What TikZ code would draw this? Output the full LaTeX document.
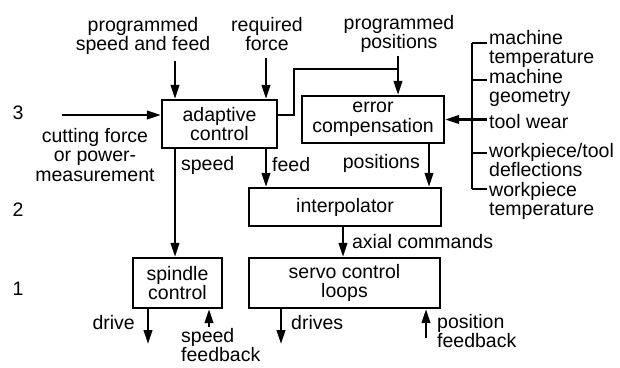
\documentclass[tikz,border=0pt]{standalone}
\usepackage{fontspec}
\setmainfont{Liberation Sans}
\usetikzlibrary{arrows.meta}

\def\ncLineWidth{2.3pt}
\def\ncTickLength{15}

\tikzset{
    ncbox/.style = {draw, line width = \ncLineWidth, inner sep = 0pt, align = center},
    nclabel/.style = {inner sep = 0pt, align = center},
    ncside/.style = {inner sep = 0pt, align = left, font = \fontsize{19.5}{19}\selectfont},
    ncline/.style = {line width = \ncLineWidth},
    ncflow/.style = {line width = \ncLineWidth, -{Triangle[length = 14pt, width = 8.5pt]}},
}

\begin{document}
\begin{tikzpicture}[x = 1pt, y = -1pt, font = \fontsize{19.5}{19.5}\selectfont]
    \useasboundingbox (0,0) rectangle (620,367);
    %% levels
    \node [nclabel] (lvlThree) at (18,113) {3};
    \node [nclabel] (lvlTwo) at (18,210) {2};
    \node [nclabel] (lvlOne) at (18,289) {1};
    %% blocks
    \node [ncbox, minimum width = 115, minimum height = 48] (ac) at (219.5,124) {adaptive\\control};
    \node [ncbox, minimum width = 142, minimum height = 47] (ec) at (373,119.5) {error\\compensation};
    \node [ncbox, minimum width = 192, minimum height = 38] (ip) at (345,207) {interpolator};
    \node [ncbox, minimum width = 89, minimum height = 50] (sc) at (177.5,283) {spindle\\control};
    \node [ncbox, minimum width = 191, minimum height = 50] (sv) at (344.5,283) {servo control\\loops};
    %% inputs from above
    \node [nclabel] (psf) at (143,36) {programmed\\speed and feed};
    \node [nclabel] (rf) at (267,34) {required\\force};
    \node [nclabel] (pp) at (399,34) {programmed\\positions};
    \coordinate (psfIn) at (175,61);
    \coordinate (rfIn) at (266,58);
    \coordinate (ppIn) at (398,56);
    \draw [ncflow] (psfIn) -- (psfIn |- ac.north);
    \draw [ncflow] (rfIn) -- (rfIn |- ac.north);
    \draw [ncflow] (ppIn) -- (ppIn |- ec.north);
    %% measurement input and link to error compensation
    \node [nclabel] (cf) at (95,155) {cutting force\\or power-\\measurement};
    \coordinate (cfIn) at (62,115);
    \draw [ncflow] (cfIn) -- (cfIn -| ac.west);
    \draw [ncline] (cfIn -| ac.east) -- ++(16,0) |- (398,69);
    %% between levels
    \draw [ncflow] (ac.south -| psfIn) -- (sc.north -| psfIn)
        node [pos = 0.15, right = 5pt, nclabel] (spdLbl) {speed};
    \draw [ncflow] (ac.south -| rfIn) -- (ip.north -| rfIn)
        node [pos = 0.4, right = 5pt, nclabel] (feedLbl) {feed};
    \coordinate (posX) at (429,0);
    \draw [ncflow] (ec.south -| posX) -- (ip.north -| posX)
        node [pos = 0.45, left = 8pt, nclabel] (posLbl) {positions};
    \coordinate (axX) at (343,0);
    \draw [ncflow] (ip.south -| axX) -- (sv.north -| axX)
        node [pos = 0.5, right = 8pt, nclabel] (axLbl) {axial commands};
    %% error sources
    \coordinate (barTop) at (472,43);
    \coordinate (barBot) at (472,189);
    \draw [ncline] (barTop) -- (barBot);
    \draw [ncflow] (ec.east -| barTop) -- (ec.east);
    \draw [ncline] (barTop) -- ++(\ncTickLength,0) coordinate (tickA);
    \draw [ncline] (472,80) -- ++(\ncTickLength,0) coordinate (tickB);
    \draw [ncline] (ec.east -| barTop) -- ++(\ncTickLength,0) coordinate (tickC);
    \draw [ncline] (472,153) -- ++(\ncTickLength,0) coordinate (tickD);
    \draw [ncline] (barBot) -- ++(\ncTickLength,0) coordinate (tickE);
    \node [ncside, anchor = north west] (mt) at ([xshift = 2pt, yshift = 13pt] tickA) {machine\\temperature};
    \node [ncside, anchor = north west] (mg) at ([xshift = 2pt, yshift = 11pt] tickB) {machine\\geometry};
    \node [ncside, anchor = west] (tw) at ([xshift = 2pt, yshift = -2pt] tickC) {tool wear};
    \node [ncside, anchor = north west] (wd) at ([xshift = 2pt, yshift = 10pt] tickD) {workpiece/tool\\deflections};
    \node [ncside, anchor = north west] (wt) at ([xshift = 2pt, yshift = 7pt] tickE) {workpiece\\temperature};
    %% outputs at level 1
    \coordinate (drvOut) at (148,344);
    \coordinate (sfbIn) at (209,327);
    \coordinate (drsOut) at (281,344);
    \coordinate (pfbIn) at (426,338);
    \draw [ncflow] (sc.south -| drvOut) -- (drvOut);
    \draw [ncflow] (sfbIn) -- (sfbIn |- sc.south);
    \draw [ncflow] (sv.south -| drsOut) -- (drsOut);
    \draw [ncflow] (pfbIn) -- (pfbIn |- sv.south);
    \node [nclabel, anchor = east] (drvLbl) at (135,323) {drive};
    \node [ncside, anchor = north west, font = \fontsize{19.5}{16.5}\selectfont] (sfbLbl) at (181,328) {speed\\feedback};
    \node [nclabel, anchor = west] (drsLbl) at (291,323) {drives};
    \node [ncside, anchor = north west] (pfbLbl) at (437,314) {position\\feedback};
\end{tikzpicture}
\end{document}
